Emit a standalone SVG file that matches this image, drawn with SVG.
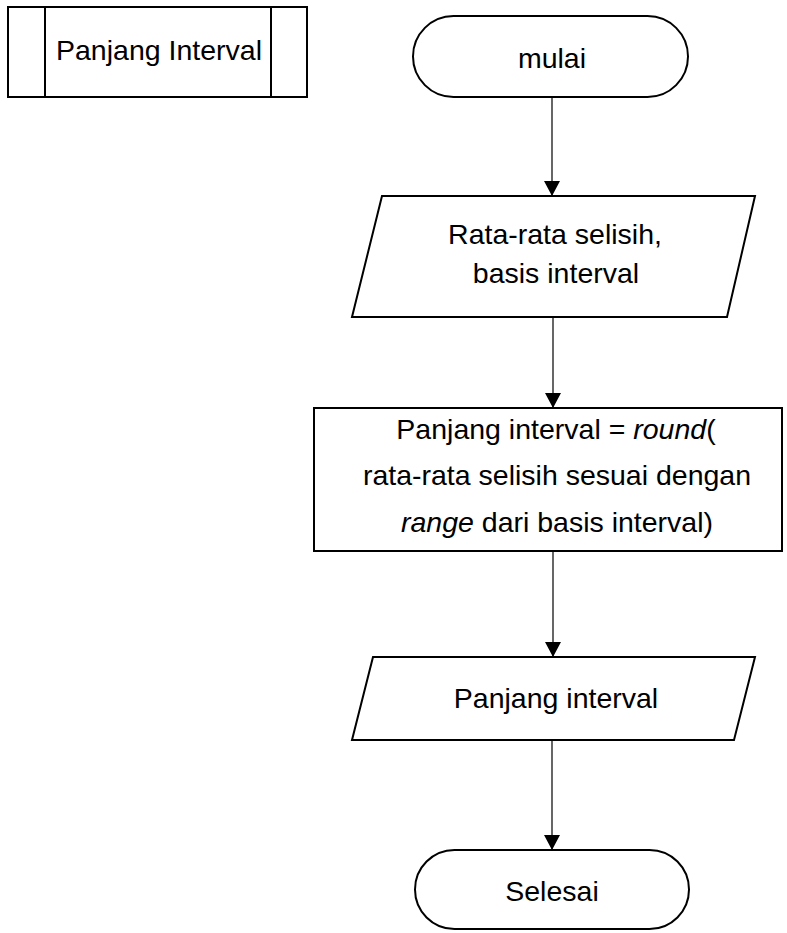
<svg xmlns="http://www.w3.org/2000/svg" width="787" height="933" viewBox="0 0 787 933">
  <style>
    .shape { fill: #ffffff; stroke: #000000; stroke-width: 2; }
    .edge { fill: none; stroke: #000000; stroke-width: 1.2; }
    text { font-family: "Liberation Sans", Arial, sans-serif; font-size: 28.5px; fill: #000000; text-anchor: middle; }
    .it { font-style: italic; }
  </style>
  <defs>
    <marker id="arrow" markerUnits="userSpaceOnUse" markerWidth="16" markerHeight="18" refX="15" refY="8" orient="auto">
      <path d="M0,0 L15,8 L0,16 Z" fill="#000000"/>
    </marker>
  </defs>
  <rect width="787" height="933" fill="#ffffff"/>

  <!-- connectors -->
  <g id="connectors">
    <line class="edge" x1="552" y1="97" x2="552" y2="196" marker-end="url(#arrow)"/>
    <line class="edge" x1="553" y1="317" x2="553" y2="408" marker-end="url(#arrow)"/>
    <line class="edge" x1="553" y1="551" x2="553" y2="657" marker-end="url(#arrow)"/>
    <line class="edge" x1="552" y1="740" x2="552" y2="850" marker-end="url(#arrow)"/>
  </g>

  <!-- predefined process title -->
  <g id="title">
    <rect class="shape" x="8" y="7" width="299" height="90"/>
    <line class="shape" x1="45" y1="7" x2="45" y2="97"/>
    <line class="shape" x1="271" y1="7" x2="271" y2="97"/>
    <text x="159" y="60">Panjang Interval</text>
  </g>

  <g id="start">
    <rect class="shape" x="413" y="16" width="275" height="81" rx="40.5" ry="40.5"/>
    <text x="552" y="68">mulai</text>
  </g>

  <g id="input">
    <polygon class="shape" points="382,196 755,196 727,317 352,317"/>
    <text x="555" y="244">Rata-rata selisih,</text>
    <text x="556" y="283">basis interval</text>
  </g>

  <g id="process">
    <rect class="shape" x="314" y="408" width="468" height="143"/>
    <text x="556" y="439">Panjang interval = <tspan class="it">round</tspan>(</text>
    <text x="557" y="485">rata-rata selisih sesuai dengan</text>
    <text x="557" y="532"><tspan class="it">range</tspan> dari basis interval)</text>
  </g>

  <g id="output">
    <polygon class="shape" points="373,657 755,657 734,740 352,740"/>
    <text x="556" y="708">Panjang interval</text>
  </g>

  <g id="end">
    <rect class="shape" x="415" y="850" width="274" height="79" rx="39.5" ry="39.5"/>
    <text x="552" y="901">Selesai</text>
  </g>
</svg>
